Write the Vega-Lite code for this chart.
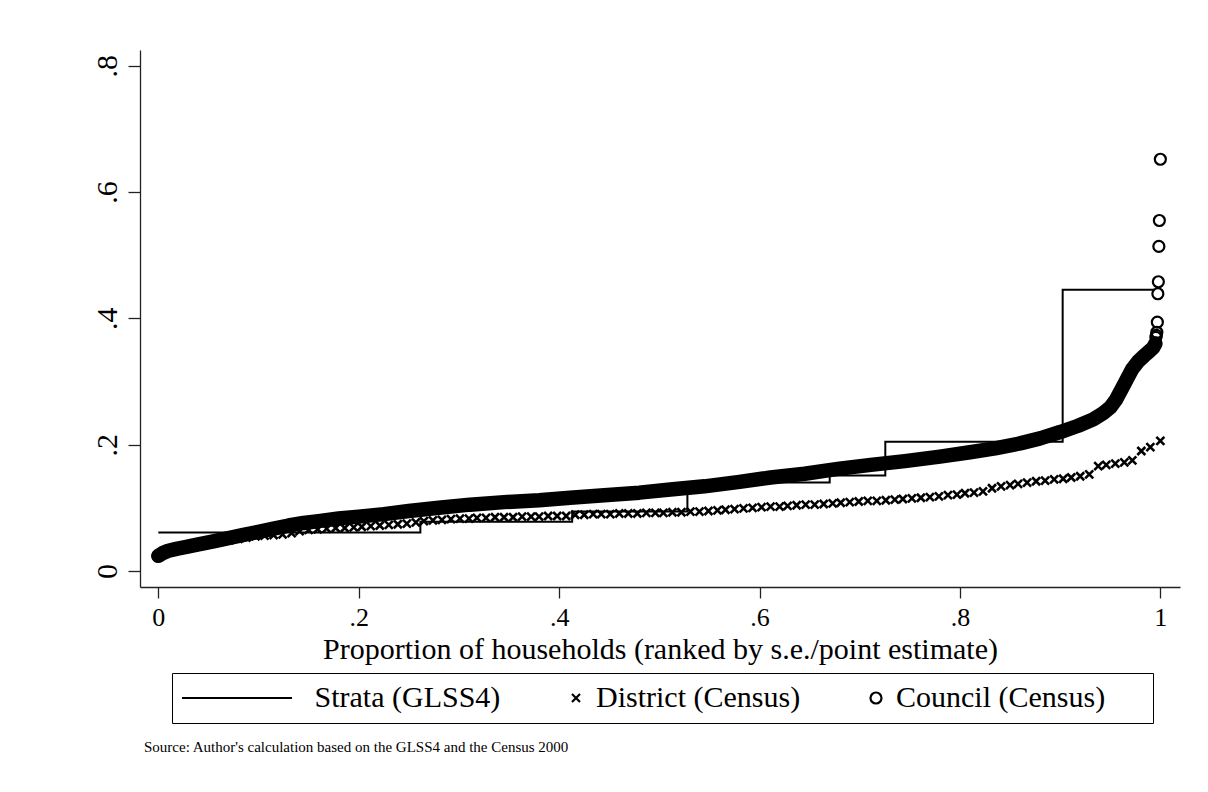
{
  "$schema": "https://vega.github.io/schema/vega-lite/v6.json",
  "width": 1040,
  "height": 537,
  "autosize": {"type": "none"},
  "padding": {"left": 140, "top": 50, "right": 28, "bottom": 205},
  "background": "white",
  "config": {"view": {"stroke": null}, "font": "Liberation Serif"},
  "title": {
    "text": "Source: Author's calculation based on the GLSS4 and the Census 2000",
    "orient": "bottom", "anchor": "start", "frame": "group", "offset": 16, "dx": 4,
    "font": "Liberation Serif", "fontSize": 15, "fontWeight": "normal", "color": "black", "baseline": "top"
  },
  "datasets": {
    "all": [
      {"series": "Strata (GLSS4)", "x": 0, "y": 0.061},
      {"series": "Strata (GLSS4)", "x": 0.2615, "y": 0.078},
      {"series": "Strata (GLSS4)", "x": 0.413, "y": 0.094},
      {"series": "Strata (GLSS4)", "x": 0.528, "y": 0.140},
      {"series": "Strata (GLSS4)", "x": 0.670, "y": 0.151},
      {"series": "Strata (GLSS4)", "x": 0.7255, "y": 0.2048},
      {"series": "Strata (GLSS4)", "x": 0.9025, "y": 0.4455},
      {"series": "Strata (GLSS4)", "x": 0.994, "y": 0.4455},
      {"series": "District (Census)", "x": 0.035, "y": 0.040},
      {"series": "District (Census)", "x": 0.044, "y": 0.043},
      {"series": "District (Census)", "x": 0.053, "y": 0.045},
      {"series": "District (Census)", "x": 0.062, "y": 0.047},
      {"series": "District (Census)", "x": 0.071, "y": 0.049},
      {"series": "District (Census)", "x": 0.080, "y": 0.051},
      {"series": "District (Census)", "x": 0.088, "y": 0.053},
      {"series": "District (Census)", "x": 0.097, "y": 0.055},
      {"series": "District (Census)", "x": 0.106, "y": 0.056},
      {"series": "District (Census)", "x": 0.115, "y": 0.057},
      {"series": "District (Census)", "x": 0.124, "y": 0.058},
      {"series": "District (Census)", "x": 0.133, "y": 0.060},
      {"series": "District (Census)", "x": 0.141, "y": 0.063},
      {"series": "District (Census)", "x": 0.150, "y": 0.065},
      {"series": "District (Census)", "x": 0.159, "y": 0.066},
      {"series": "District (Census)", "x": 0.168, "y": 0.067},
      {"series": "District (Census)", "x": 0.177, "y": 0.068},
      {"series": "District (Census)", "x": 0.186, "y": 0.068},
      {"series": "District (Census)", "x": 0.195, "y": 0.069},
      {"series": "District (Census)", "x": 0.203, "y": 0.070},
      {"series": "District (Census)", "x": 0.212, "y": 0.071},
      {"series": "District (Census)", "x": 0.221, "y": 0.072},
      {"series": "District (Census)", "x": 0.230, "y": 0.073},
      {"series": "District (Census)", "x": 0.239, "y": 0.074},
      {"series": "District (Census)", "x": 0.248, "y": 0.075},
      {"series": "District (Census)", "x": 0.257, "y": 0.077},
      {"series": "District (Census)", "x": 0.265, "y": 0.079},
      {"series": "District (Census)", "x": 0.274, "y": 0.080},
      {"series": "District (Census)", "x": 0.283, "y": 0.081},
      {"series": "District (Census)", "x": 0.292, "y": 0.082},
      {"series": "District (Census)", "x": 0.301, "y": 0.083},
      {"series": "District (Census)", "x": 0.310, "y": 0.083},
      {"series": "District (Census)", "x": 0.318, "y": 0.084},
      {"series": "District (Census)", "x": 0.327, "y": 0.084},
      {"series": "District (Census)", "x": 0.336, "y": 0.085},
      {"series": "District (Census)", "x": 0.345, "y": 0.085},
      {"series": "District (Census)", "x": 0.354, "y": 0.085},
      {"series": "District (Census)", "x": 0.363, "y": 0.086},
      {"series": "District (Census)", "x": 0.372, "y": 0.086},
      {"series": "District (Census)", "x": 0.380, "y": 0.086},
      {"series": "District (Census)", "x": 0.389, "y": 0.087},
      {"series": "District (Census)", "x": 0.398, "y": 0.087},
      {"series": "District (Census)", "x": 0.407, "y": 0.087},
      {"series": "District (Census)", "x": 0.416, "y": 0.089},
      {"series": "District (Census)", "x": 0.425, "y": 0.089},
      {"series": "District (Census)", "x": 0.434, "y": 0.090},
      {"series": "District (Census)", "x": 0.442, "y": 0.090},
      {"series": "District (Census)", "x": 0.451, "y": 0.090},
      {"series": "District (Census)", "x": 0.460, "y": 0.091},
      {"series": "District (Census)", "x": 0.469, "y": 0.091},
      {"series": "District (Census)", "x": 0.478, "y": 0.091},
      {"series": "District (Census)", "x": 0.487, "y": 0.092},
      {"series": "District (Census)", "x": 0.496, "y": 0.092},
      {"series": "District (Census)", "x": 0.504, "y": 0.092},
      {"series": "District (Census)", "x": 0.513, "y": 0.093},
      {"series": "District (Census)", "x": 0.522, "y": 0.093},
      {"series": "District (Census)", "x": 0.531, "y": 0.094},
      {"series": "District (Census)", "x": 0.540, "y": 0.094},
      {"series": "District (Census)", "x": 0.549, "y": 0.095},
      {"series": "District (Census)", "x": 0.558, "y": 0.096},
      {"series": "District (Census)", "x": 0.566, "y": 0.097},
      {"series": "District (Census)", "x": 0.575, "y": 0.098},
      {"series": "District (Census)", "x": 0.584, "y": 0.099},
      {"series": "District (Census)", "x": 0.593, "y": 0.100},
      {"series": "District (Census)", "x": 0.602, "y": 0.101},
      {"series": "District (Census)", "x": 0.611, "y": 0.102},
      {"series": "District (Census)", "x": 0.620, "y": 0.102},
      {"series": "District (Census)", "x": 0.628, "y": 0.103},
      {"series": "District (Census)", "x": 0.637, "y": 0.104},
      {"series": "District (Census)", "x": 0.646, "y": 0.105},
      {"series": "District (Census)", "x": 0.655, "y": 0.105},
      {"series": "District (Census)", "x": 0.664, "y": 0.106},
      {"series": "District (Census)", "x": 0.673, "y": 0.107},
      {"series": "District (Census)", "x": 0.681, "y": 0.108},
      {"series": "District (Census)", "x": 0.690, "y": 0.109},
      {"series": "District (Census)", "x": 0.699, "y": 0.110},
      {"series": "District (Census)", "x": 0.708, "y": 0.111},
      {"series": "District (Census)", "x": 0.717, "y": 0.111},
      {"series": "District (Census)", "x": 0.726, "y": 0.112},
      {"series": "District (Census)", "x": 0.735, "y": 0.113},
      {"series": "District (Census)", "x": 0.743, "y": 0.114},
      {"series": "District (Census)", "x": 0.752, "y": 0.115},
      {"series": "District (Census)", "x": 0.761, "y": 0.116},
      {"series": "District (Census)", "x": 0.770, "y": 0.117},
      {"series": "District (Census)", "x": 0.779, "y": 0.118},
      {"series": "District (Census)", "x": 0.788, "y": 0.120},
      {"series": "District (Census)", "x": 0.797, "y": 0.121},
      {"series": "District (Census)", "x": 0.805, "y": 0.123},
      {"series": "District (Census)", "x": 0.814, "y": 0.124},
      {"series": "District (Census)", "x": 0.823, "y": 0.126},
      {"series": "District (Census)", "x": 0.832, "y": 0.131},
      {"series": "District (Census)", "x": 0.841, "y": 0.134},
      {"series": "District (Census)", "x": 0.850, "y": 0.136},
      {"series": "District (Census)", "x": 0.858, "y": 0.138},
      {"series": "District (Census)", "x": 0.867, "y": 0.140},
      {"series": "District (Census)", "x": 0.876, "y": 0.142},
      {"series": "District (Census)", "x": 0.885, "y": 0.143},
      {"series": "District (Census)", "x": 0.894, "y": 0.145},
      {"series": "District (Census)", "x": 0.903, "y": 0.146},
      {"series": "District (Census)", "x": 0.911, "y": 0.148},
      {"series": "District (Census)", "x": 0.920, "y": 0.150},
      {"series": "District (Census)", "x": 0.929, "y": 0.153},
      {"series": "District (Census)", "x": 0.938, "y": 0.166},
      {"series": "District (Census)", "x": 0.946, "y": 0.168},
      {"series": "District (Census)", "x": 0.955, "y": 0.170},
      {"series": "District (Census)", "x": 0.964, "y": 0.172},
      {"series": "District (Census)", "x": 0.972, "y": 0.175},
      {"series": "District (Census)", "x": 0.981, "y": 0.190},
      {"series": "District (Census)", "x": 0.990, "y": 0.196},
      {"series": "District (Census)", "x": 1.000, "y": 0.206},
      {"series": "Council (Census)", "x": 0.000, "y": 0.024},
      {"series": "Council (Census)", "x": 0.004, "y": 0.028},
      {"series": "Council (Census)", "x": 0.010, "y": 0.032},
      {"series": "Council (Census)", "x": 0.018, "y": 0.035},
      {"series": "Council (Census)", "x": 0.028, "y": 0.038},
      {"series": "Council (Census)", "x": 0.040, "y": 0.042},
      {"series": "Council (Census)", "x": 0.055, "y": 0.047},
      {"series": "Council (Census)", "x": 0.070, "y": 0.052},
      {"series": "Council (Census)", "x": 0.085, "y": 0.057},
      {"series": "Council (Census)", "x": 0.100, "y": 0.062},
      {"series": "Council (Census)", "x": 0.115, "y": 0.067},
      {"series": "Council (Census)", "x": 0.130, "y": 0.072},
      {"series": "Council (Census)", "x": 0.145, "y": 0.076},
      {"series": "Council (Census)", "x": 0.160, "y": 0.079},
      {"series": "Council (Census)", "x": 0.180, "y": 0.083},
      {"series": "Council (Census)", "x": 0.200, "y": 0.086},
      {"series": "Council (Census)", "x": 0.225, "y": 0.090},
      {"series": "Council (Census)", "x": 0.250, "y": 0.095},
      {"series": "Council (Census)", "x": 0.280, "y": 0.100},
      {"series": "Council (Census)", "x": 0.311, "y": 0.105},
      {"series": "Council (Census)", "x": 0.345, "y": 0.109},
      {"series": "Council (Census)", "x": 0.380, "y": 0.112},
      {"series": "Council (Census)", "x": 0.411, "y": 0.116},
      {"series": "Council (Census)", "x": 0.445, "y": 0.120},
      {"series": "Council (Census)", "x": 0.480, "y": 0.124},
      {"series": "Council (Census)", "x": 0.511, "y": 0.129},
      {"series": "Council (Census)", "x": 0.545, "y": 0.134},
      {"series": "Council (Census)", "x": 0.580, "y": 0.141},
      {"series": "Council (Census)", "x": 0.611, "y": 0.148},
      {"series": "Council (Census)", "x": 0.645, "y": 0.154},
      {"series": "Council (Census)", "x": 0.680, "y": 0.162},
      {"series": "Council (Census)", "x": 0.711, "y": 0.168},
      {"series": "Council (Census)", "x": 0.745, "y": 0.174},
      {"series": "Council (Census)", "x": 0.780, "y": 0.181},
      {"series": "Council (Census)", "x": 0.810, "y": 0.188},
      {"series": "Council (Census)", "x": 0.835, "y": 0.194},
      {"series": "Council (Census)", "x": 0.860, "y": 0.202},
      {"series": "Council (Census)", "x": 0.880, "y": 0.210},
      {"series": "Council (Census)", "x": 0.900, "y": 0.220},
      {"series": "Council (Census)", "x": 0.918, "y": 0.230},
      {"series": "Council (Census)", "x": 0.933, "y": 0.240},
      {"series": "Council (Census)", "x": 0.943, "y": 0.250},
      {"series": "Council (Census)", "x": 0.950, "y": 0.259},
      {"series": "Council (Census)", "x": 0.956, "y": 0.272},
      {"series": "Council (Census)", "x": 0.962, "y": 0.290},
      {"series": "Council (Census)", "x": 0.967, "y": 0.305},
      {"series": "Council (Census)", "x": 0.972, "y": 0.320},
      {"series": "Council (Census)", "x": 0.978, "y": 0.332},
      {"series": "Council (Census)", "x": 0.984, "y": 0.341},
      {"series": "Council (Census)", "x": 0.989, "y": 0.348},
      {"series": "Council (Census)", "x": 0.993, "y": 0.354},
      {"series": "Council (Census)", "x": 0.995, "y": 0.360},
      {"series": "Council (Census)", "x": 0.9955, "y": 0.370},
      {"series": "Council (Census)", "x": 0.996, "y": 0.373},
      {"series": "Council (Census)", "x": 0.9965, "y": 0.378},
      {"series": "Council (Census)", "x": 0.997, "y": 0.394},
      {"series": "Council (Census)", "x": 0.9975, "y": 0.439},
      {"series": "Council (Census)", "x": 0.998, "y": 0.458},
      {"series": "Council (Census)", "x": 0.9985, "y": 0.514},
      {"series": "Council (Census)", "x": 0.999, "y": 0.555},
      {"series": "Council (Census)", "x": 1.000, "y": 0.652}
    ]
  },
  "data": {"name": "all"},
  "encoding": {
    "x": {
      "field": "x", "type": "quantitative",
      "scale": {"domain": [-0.0183, 1.0196], "nice": false, "zero": false},
      "axis": {
        "values": [0, 0.2, 0.4, 0.6, 0.8, 1],
        "labelExpr": "datum.value == 0 ? '0' : datum.value == 1 ? '1' : substring(format(datum.value, '.1f'), 1)",
        "title": "Proportion of households (ranked by s.e./point estimate)",
        "grid": false, "domainColor": "#222", "domainWidth": 1.3, "tickColor": "#222", "tickWidth": 1.3, "tickSize": 11,
        "labelFont": "Liberation Serif", "labelFontSize": 26, "labelColor": "black", "labelBaseline": "alphabetic",
        "labelPadding": 27, "labelFlush": false, "labelOverlap": false,
        "titleFont": "Liberation Serif", "titleFontSize": 30, "titleFontWeight": "normal", "titleColor": "black",
        "titleX": 520, "titleY": 71, "titleBaseline": "alphabetic", "titleAlign": "center", "titleAnchor": "middle"
      }
    },
    "y": {
      "field": "y", "type": "quantitative",
      "scale": {"domain": [-0.0254, 0.825], "nice": false, "zero": false},
      "axis": {
        "values": [0, 0.2, 0.4, 0.6, 0.8],
        "labelExpr": "datum.value == 0 ? '0' : substring(format(datum.value, '.1f'), 1)",
        "title": null,
        "grid": false, "domainColor": "#222", "domainWidth": 1.3, "tickColor": "#222", "tickWidth": 1.3, "tickSize": 12,
        "labelFont": "Liberation Serif", "labelFontSize": 30, "labelColor": "black",
        "labelAngle": -90, "labelAlign": "center", "labelBaseline": "alphabetic", "labelPadding": 12,
        "labelFlush": false, "labelOverlap": false
      }
    }
  },
  "layer": [
    {
      "transform": [{"filter": "datum.series == 'Strata (GLSS4)'"}],
      "mark": {"type": "line", "interpolate": "step-after", "color": "black", "strokeWidth": 2}
    },
    {
      "transform": [{"filter": "datum.series == 'District (Census)'"}],
      "mark": {"type": "point", "filled": false, "color": "black", "strokeWidth": 2.6, "size": 4, "opacity": 1},
      "encoding": {
        "shape": {
          "field": "series", "type": "nominal",
          "scale": {"domain": ["Strata (GLSS4)", "District (Census)", "Council (Census)"], "range": ["M-15,0H95", "M-4,-4L4,4M-4,4L4,-4", "M5.5,0A5.5,5.5 0 1,1 -5.5,0A5.5,5.5 0 1,1 5.5,0"]},
          "legend": {
            "title": null, "orient": "none", "legendX": 32, "legendY": 623,
            "direction": "horizontal", "columns": 3, "columnPadding": 60, "padding": 10,
            "strokeColor": "black", "fillColor": "white",
            "symbolSize": 4, "symbolStrokeWidth": 2.2, "symbolStrokeColor": "black", "symbolFillColor": "transparent",
            "labelFont": "Liberation Serif", "labelFontSize": 30, "labelColor": "black", "labelLimit": 600, "labelOffset": 5,
            "labelExpr": "datum.label == 'Strata (GLSS4)' ? '\u200b\u00a0\u00a0\u00a0\u00a0\u00a0\u00a0\u00a0\u00a0\u00a0\u00a0\u00a0\u00a0\u00a0' + datum.label : datum.label == 'Council (Census)' ? datum.label + '\u00a0\u00a0\u00a0\u00a0\u00a0\u200b' : datum.label"
          }
        }
      }
    },
    {
      "transform": [{"filter": "datum.series == 'Council (Census)' && datum.y < 0.365"}],
      "mark": {"type": "line", "color": "black", "strokeWidth": 14.5, "strokeCap": "round", "strokeJoin": "round"}
    },
    {
      "transform": [{"filter": "datum.series == 'Council (Census)'"}],
      "mark": {"type": "point", "filled": false, "color": "black", "strokeWidth": 2.2, "size": 4, "opacity": 1},
      "encoding": {
        "shape": {
          "field": "series", "type": "nominal",
          "scale": {"domain": ["Strata (GLSS4)", "District (Census)", "Council (Census)"], "range": ["M-15,0H95", "M-4,-4L4,4M-4,4L4,-4", "M5.5,0A5.5,5.5 0 1,1 -5.5,0A5.5,5.5 0 1,1 5.5,0"]},
          "legend": null
        }
      }
    }
  ]
}
